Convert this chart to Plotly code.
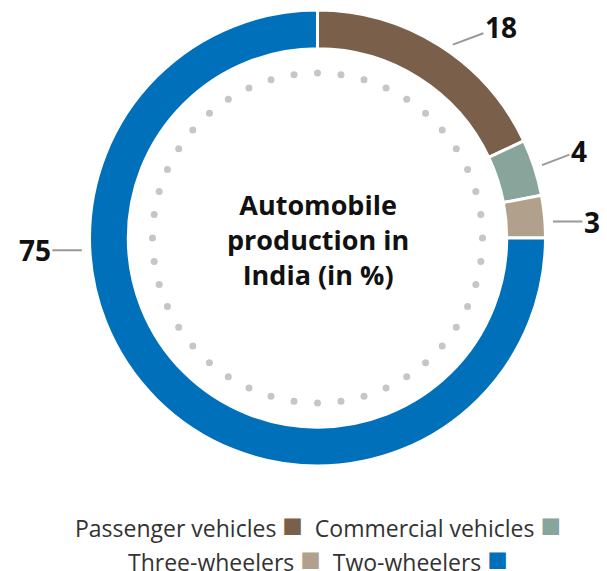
import numpy as np
import plotly.graph_objects as go

categories = ["Passenger vehicles", "Commercial vehicles", "Three-wheelers", "Two-wheelers"]
shares = [18, 4, 3, 75]
colors = ["#7a604b", "#88a49b", "#b1a18c", "#0070ba"]

# where each value label sits (degrees clockwise from 12 o'clock) and its text offset in px
label_angle = [35, 72, 86, 267]
label_offset = [(48, -18), (37, -14), (39, 0), (-47, 0)]

W, H = 607, 571
cx, cy, r_out = 317.5, 238, 228
font_family = "'Open Sans', Roboto, sans-serif"

fig = go.Figure()

fig.add_trace(
    go.Pie(
        labels=categories,
        values=shares,
        hole=0.83,
        sort=False,
        direction="clockwise",
        rotation=0,
        marker=dict(colors=colors, line=dict(color="#fff", width=3)),
        textinfo="none",
        hoverinfo="label+value",
        showlegend=False,
        domain=dict(
            x=[(cx - r_out) / W, (cx + r_out) / W],
            y=[1 - (cy + r_out) / H, 1 - (cy - r_out) / H],
        ),
    )
)

# dotted inner ring
n_dots = 44
theta = np.arange(n_dots) * 2 * np.pi / n_dots
fig.add_trace(
    go.Scatter(
        x=cx + 165 * np.sin(theta),
        y=cy - 165 * np.cos(theta),
        mode="markers",
        marker=dict(size=7, color="#c6c6c6"),
        hoverinfo="skip",
        showlegend=False,
    )
)

for v, a, (ox, oy) in zip(shares, label_angle, label_offset):
    t = np.radians(a)
    fig.add_annotation(
        x=cx + 236 * np.sin(t),
        y=cy - 236 * np.cos(t),
        ax=ox,
        ay=oy,
        text=f"<b>{v}</b>",
        showarrow=True,
        arrowhead=0,
        arrowwidth=2,
        arrowcolor="#999999",
        standoff=0,
        font=dict(family=font_family, size=28, color="#111"),
    )

fig.add_annotation(
    x=cx,
    y=cy + 1,
    text="<b>Automobile<br>production in<br>India (in %)</b>",
    showarrow=False,
    font=dict(family=font_family, size=27, color="#111"),
    align="center",
)

# legend rows: label followed by its colour square
rows = [[0, 1], [2, 3]]
for i, row in enumerate(rows):
    parts = [
        f"{categories[k]}&nbsp;<span style='color:{colors[k]};font-size:34px'>■</span>"
        for k in row
    ]
    fig.add_annotation(
        x=cx,
        y=524 + i * 34,
        text="&nbsp;&nbsp;".join(parts),
        showarrow=False,
        font=dict(family=font_family, size=23, color="#333"),
    )

fig.update_xaxes(range=[0, W], visible=False, fixedrange=True)
fig.update_yaxes(range=[H, 0], visible=False, fixedrange=True)
fig.update_layout(
    width=W,
    height=H,
    margin=dict(l=0, r=0, t=0, b=0),
    paper_bgcolor="#fff",
    plot_bgcolor="#fff",
)

fig.write_html(
    "out.html",
    config={"displayModeBar": False},
    post_script="document.body.style.margin = '0';",
)
